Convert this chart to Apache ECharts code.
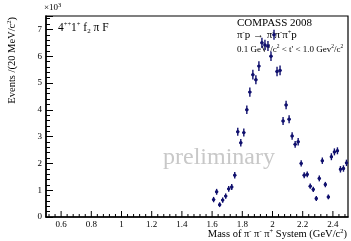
<!DOCTYPE html>
<html>
<head>
<meta charset="utf-8">
<script src="https://cdn.jsdelivr.net/npm/echarts@6/dist/echarts.min.js"></script>
<style>
  html, body { margin: 0; padding: 0; background: #fff; }
  #chart { width: 351px; height: 241px; }
</style>
</head>
<body>
<div id="chart"></div>
<script>
// bin centres (GeV/c^2), 20 MeV bins
const mass = [
  1.61, 1.63, 1.65, 1.67, 1.69, 1.71, 1.73, 1.75, 1.77, 1.79,
  1.81, 1.83, 1.85, 1.87, 1.89, 1.91, 1.93, 1.95, 1.97, 1.99,
  2.01, 2.03, 2.05, 2.07, 2.09, 2.11, 2.13, 2.15, 2.17, 2.19,
  2.21, 2.23, 2.25, 2.27, 2.29, 2.31, 2.33, 2.35, 2.37, 2.39,
  2.41, 2.43, 2.45, 2.47, 2.49
]
// events in units of 10^3
const events = [
  0.65, 0.94, 0.46, 0.63, 0.78, 1.05, 1.12, 1.56, 3.18, 2.77,
  3.15, 4.0, 4.66, 5.31, 5.12, 5.63, 6.5, 6.42, 6.38, 6.0,
  6.8, 5.43, 5.47, 3.58, 4.18, 3.65, 3.02, 2.71, 2.81, 2.0,
  1.56, 1.59, 1.15, 1.03, 0.69, 1.44, 2.1, 1.21, 0.75, 2.25,
  2.43, 2.47, 1.78, 1.81, 2.02
]
const errors = [
  0.1, 0.11, 0.09, 0.1, 0.1, 0.11, 0.11, 0.12, 0.15, 0.14,
  0.15, 0.16, 0.17, 0.18, 0.17, 0.18, 0.19, 0.19, 0.19, 0.18,
  0.19, 0.18, 0.18, 0.15, 0.16, 0.15, 0.14, 0.13, 0.14, 0.12,
  0.11, 0.11, 0.1, 0.1, 0.09, 0.11, 0.12, 0.1, 0.09, 0.13,
  0.13, 0.13, 0.12, 0.12, 0.12
]
const xLabels = ['0.6', '0.8', '1', '1.2', '1.4', '1.6', '1.8', '2', '2.2', '2.4']
const yLabels = ['0', '1', '2', '3', '4', '5', '6', '7']
const binHalfWidth = 0.01

// x ticks: majors every 0.2, minors every 0.04 (ROOT style)
const xTicks = []
for (let i = 13; i <= 62; i++) {
  const v = Math.round(i * 0.04 * 100) / 100
  xTicks.push([v, i % 5 === 0 ? 1 : 0])
}

const font = '"Liberation Serif", "DejaVu Serif", serif'
const navy = '#10106e'

const chart = echarts.init(document.getElementById('chart'), null, { renderer: 'canvas' })

const renderPoint = (params, api) => {
  const x = api.value(0)
  const y = api.value(1)
  const e = api.value(2)
  const c = api.coord([x, y])
  const top = api.coord([x, y + e])
  const bot = api.coord([x, y - e])
  const l = api.coord([x - binHalfWidth, y])
  const r = api.coord([x + binHalfWidth, y])
  const st = { stroke: navy, lineWidth: 1.4 }
  return {
    type: 'group',
    children: [
      { type: 'line', shape: { x1: top[0], y1: top[1], x2: bot[0], y2: bot[1] }, style: st },
      { type: 'line', shape: { x1: l[0], y1: l[1], x2: r[0], y2: r[1] }, style: st },
      { type: 'circle', shape: { cx: c[0], cy: c[1], r: 1.7 }, style: { fill: navy } },
    ],
  }
}

const renderTick = (params, api) => {
  const p = api.coord([api.value(0), 0])
  const len = api.value(1) ? 6 : 3
  return {
    type: 'line',
    shape: { x1: p[0], y1: p[1], x2: p[0], y2: p[1] - len },
    style: { stroke: '#000', lineWidth: 1 },
  }
}

const sup = { fontSize: 6.5, verticalAlign: 'top', fontFamily: font, fill: '#000' }

const option = {
  animation: false,
  grid: {
    left: 46,
    right: 1,
    top: 16,
    bottom: 24,
    show: true,
    borderColor: '#000',
    borderWidth: 1.2,
  },
  xAxis: {
    type: 'value',
    min: 0.5,
    max: 2.5,
    interval: 0.1,
    splitLine: { show: false },
    axisLine: { lineStyle: { color: '#000', width: 1.5 } },
    axisTick: { show: false },
    axisLabel: {
      color: '#000',
      fontFamily: font,
      fontSize: 9,
      margin: 3,
      formatter: (v) => {
        const s = String(Math.round(v * 10) / 10)
        return xLabels.includes(s) ? s : ''
      },
    },
  },
  yAxis: {
    type: 'value',
    min: 0,
    max: 7.5,
    interval: 1,
    splitLine: { show: false },
    axisLine: { show: true, lineStyle: { color: '#000', width: 1.5 } },
    axisTick: { inside: true, length: 7, lineStyle: { color: '#000', width: 1 } },
    minorTick: { show: true, splitNumber: 5, length: 4, lineStyle: { color: '#000', width: 1 } },
    axisLabel: {
      color: '#000',
      fontFamily: font,
      fontSize: 9,
      margin: 4,
      formatter: (v) => (yLabels.includes(String(v)) ? String(v) : ''),
    },
  },
  graphic: [
    {
      type: 'text',
      left: 163,
      top: 146,
      style: { text: 'preliminary', font: '24px ' + font, fill: '#c8c8c8', textAlign: 'center' },
      z: 0,
    },
    {
      type: 'text',
      x: 44,
      y: 2,
      style: {
        text: '{n|×10}{s|3}',
        rich: { n: { fontSize: 9, fontFamily: font, fill: '#000', lineHeight: 12 }, s: sup },
      },
    },
    {
      type: 'text',
      x: 58,
      y: 21,
      style: {
        text: '{n|4}{s|++}{n|1}{s|+}{n| f}{b|2}{n| π F}',
        rich: {
          n: { fontSize: 11.5, fontFamily: font, fill: '#000', lineHeight: 14 },
          s: sup,
          b: { fontSize: 7, verticalAlign: 'bottom', fontFamily: font, fill: '#000' },
        },
      },
    },
    {
      type: 'text',
      x: 237,
      y: 18,
      style: { text: 'COMPASS 2008', font: '11px ' + font, fill: '#000' },
    },
    {
      type: 'text',
      x: 237,
      y: 29,
      style: {
        text: '{n|π}{s|-}{n|p → π}{s|-}{n|π}{s|-}{n|π}{s|+}{n|p}',
        rich: { n: { fontSize: 11, fontFamily: font, fill: '#000', lineHeight: 13 }, s: sup },
      },
    },
    {
      type: 'text',
      x: 237,
      y: 44,
      style: {
        text: '{n|0.1 GeV}{s|2}{n|/c}{s|2}{n| < t\' < 1.0 Gev}{s|2}{n|/c}{s|2}',
        rich: {
          n: { fontSize: 9, fontFamily: font, fill: '#000', lineHeight: 12 },
          s: { fontSize: 5.5, verticalAlign: 'top', fontFamily: font, fill: '#000' },
        },
      },
    },
    {
      type: 'text',
      right: 4,
      top: 228,
      style: {
        text: '{n|Mass of π}{s|-}{n| π}{s|-}{n| π}{s|+}{n| System (GeV/c}{s|2}{n|)}',
        rich: { n: { fontSize: 10.5, fontFamily: font, fill: '#000', lineHeight: 13 }, s: sup },
      },
    },
    {
      type: 'text',
      x: 6,
      y: 17,
      rotation: Math.PI / 2,
      style: {
        text: '{n|Events /(20 MeV/c}{s|2}{n|)}',
        rich: { n: { fontSize: 10.5, fontFamily: font, fill: '#000', lineHeight: 13 }, s: sup },
        textAlign: 'right',
        textVerticalAlign: 'top',
      },
    },
  ],
  series: [
    {
      type: 'custom',
      renderItem: renderTick,
      encode: { x: 0 },
      data: xTicks,
      silent: true,
      z: 4,
    },
    {
      type: 'custom',
      renderItem: renderPoint,
      encode: { x: 0, y: 1 },
      data: mass.map((m, i) => [m, events[i], errors[i]]),
      z: 5,
    },
  ],
}

chart.setOption(option)
</script>
</body>
</html>
